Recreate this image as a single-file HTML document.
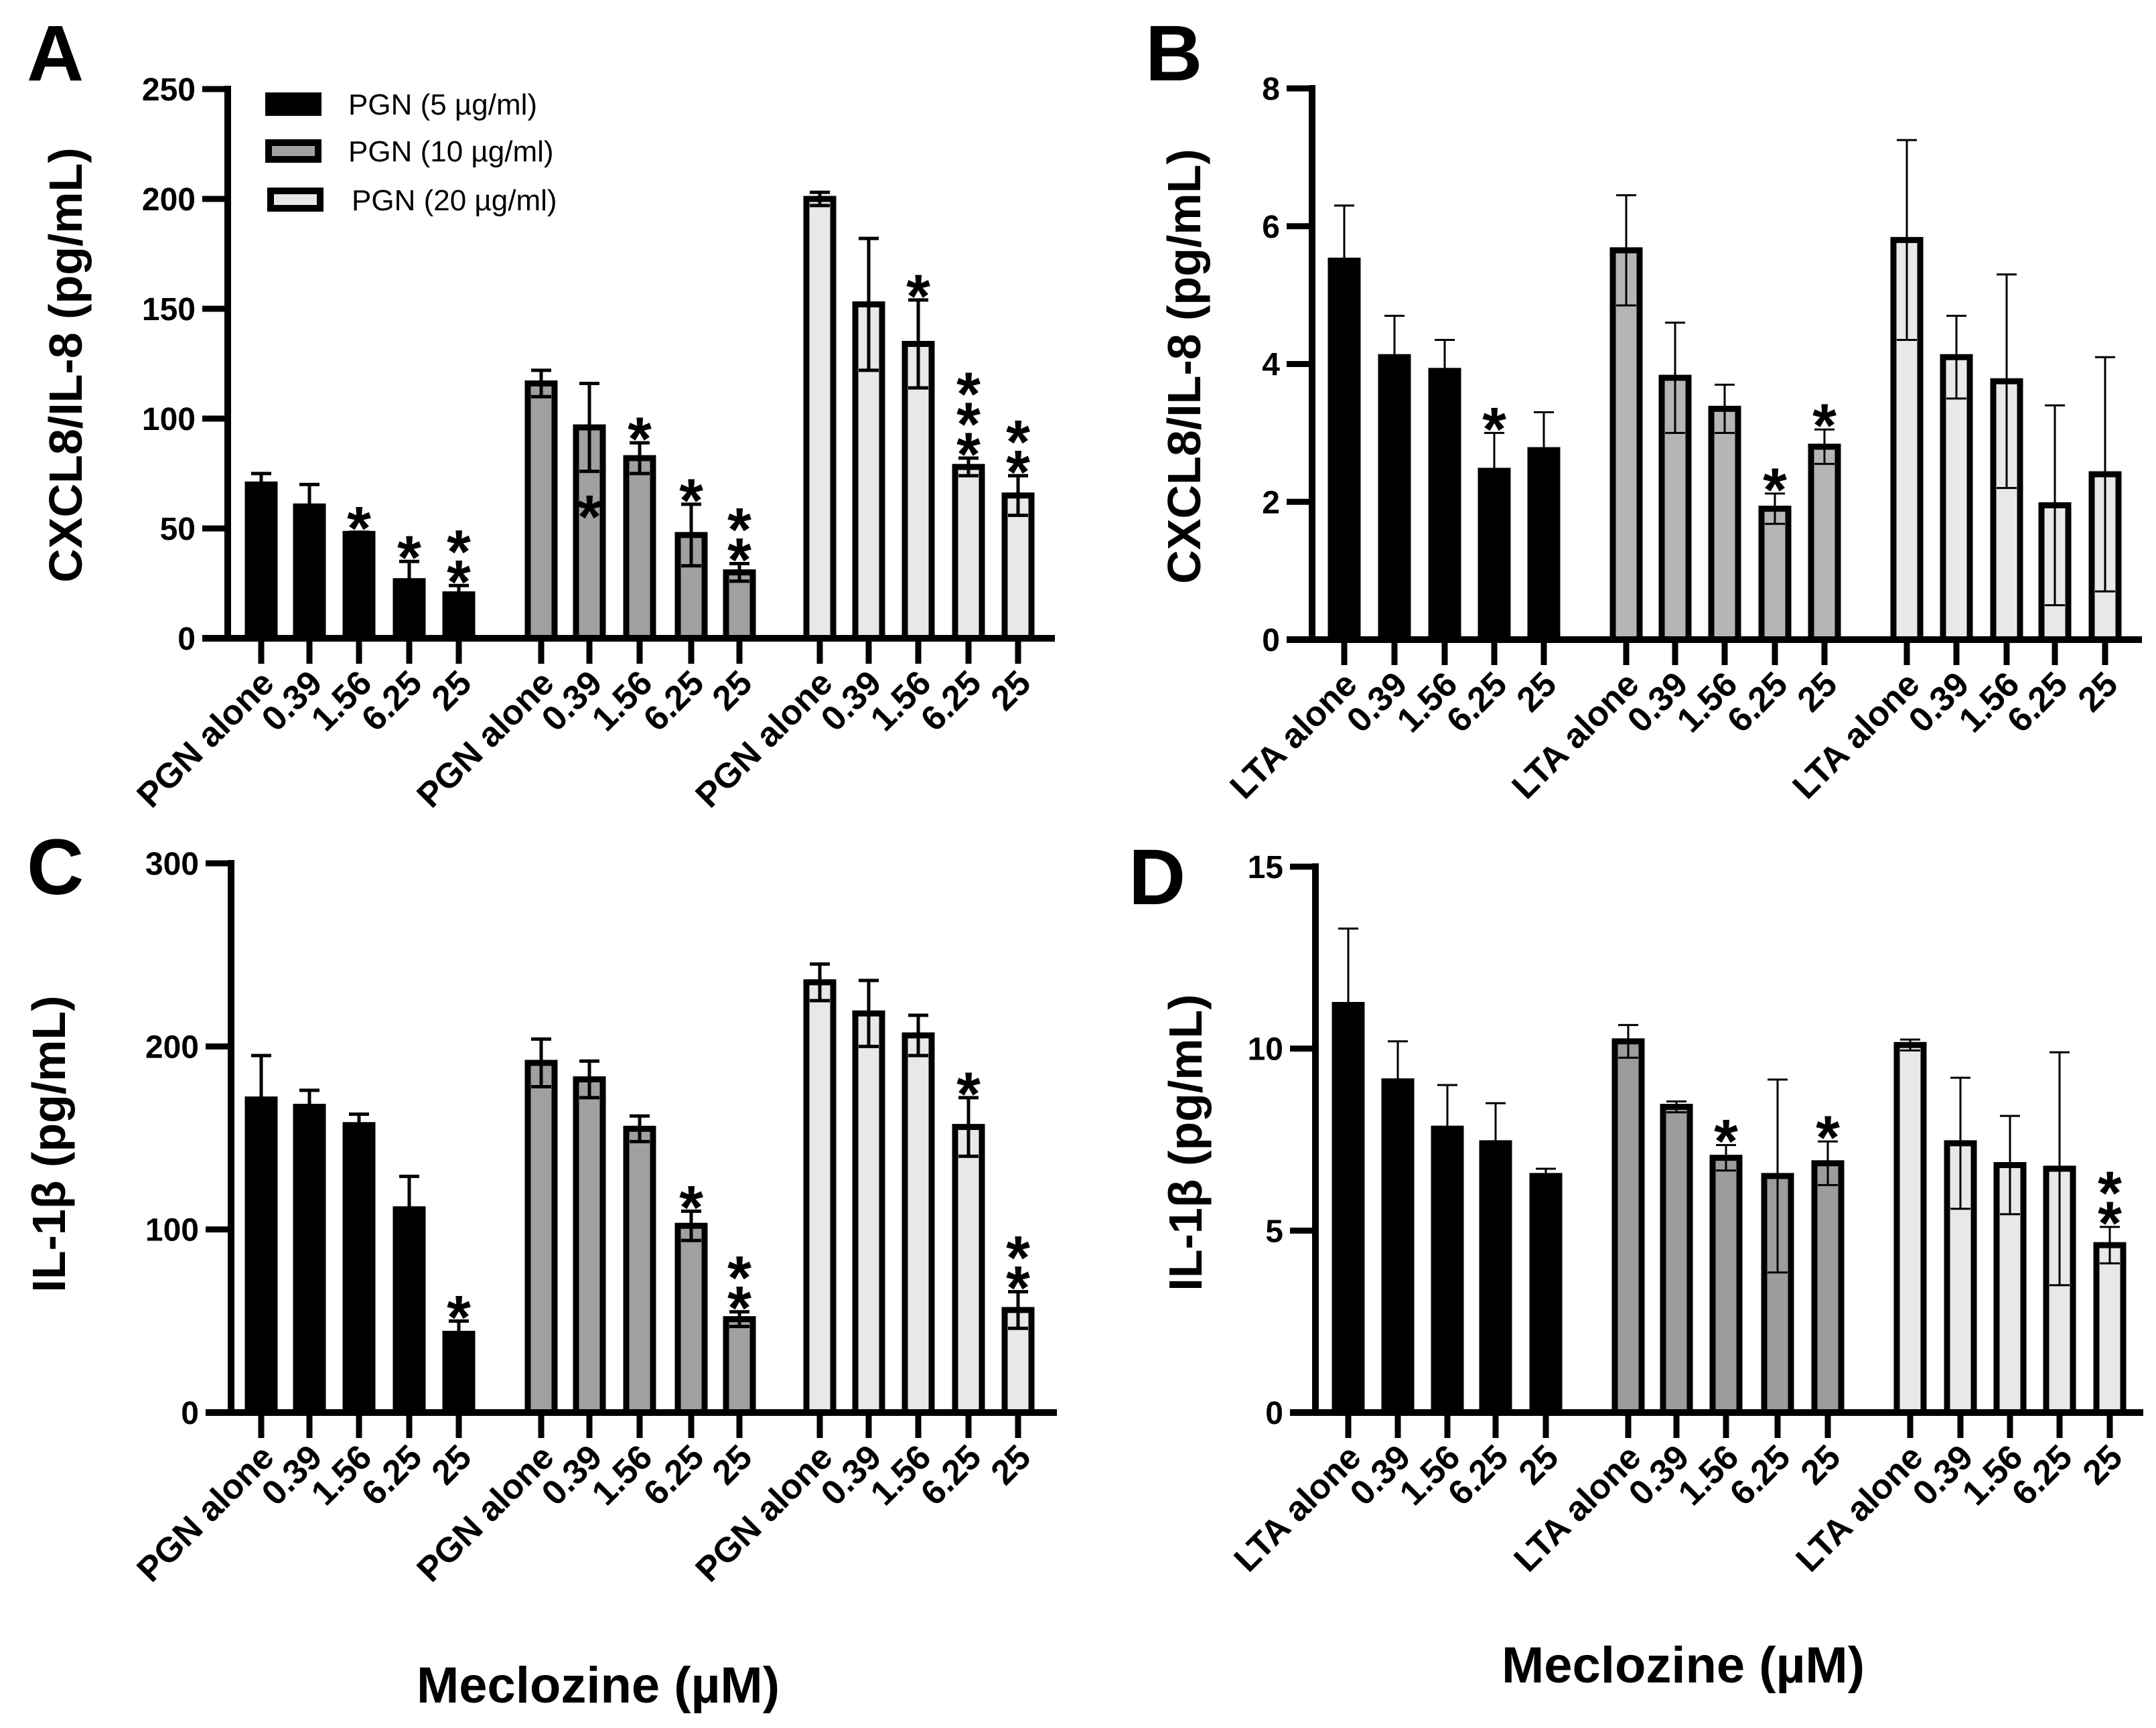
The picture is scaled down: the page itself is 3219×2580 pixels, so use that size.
<!DOCTYPE html>
<html><head><meta charset="utf-8"><style>
html,body{margin:0;padding:0;background:#fff}
svg{display:block;font-family:"Liberation Sans",Arial,sans-serif}
</style></head><body>
<svg id="fig" width="3219" height="2580" viewBox="0 0 3219 2580" xmlns="http://www.w3.org/2000/svg">
<rect width="3219" height="2580" fill="#fff"/>
<g font-weight="bold" font-size="118">
<text x="40" y="120">A</text>
<text x="1710" y="120">B</text>
<text x="40" y="1335">C</text>
<text x="1685" y="1350">D</text>
</g>
<g font-size="44">
<rect x="396" y="138" width="84" height="35" fill="#000"/>
<text x="520" y="171">PGN (5 µg/ml)</text>
<rect x="401" y="213" width="74" height="25" fill="#a0a0a0" stroke="#000" stroke-width="10"/>
<text x="520" y="241">PGN (10 µg/ml)</text>
<rect x="404" y="285" width="74" height="26" fill="#e8e8e8" stroke="#000" stroke-width="10"/>
<text x="525" y="314">PGN (20 µg/ml)</text>
</g>
<g font-weight="bold" font-size="76">
<text x="893" y="2542" text-anchor="middle">Meclozine (µM)</text>
<text x="2513" y="2512" text-anchor="middle">Meclozine (µM)</text>
</g>
</svg>
<script>
// Panel A data
const catsPGN = ["PGN alone","0.39","1.56","6.25","25"];
const catsLTA = ["LTA alone","0.39","1.56","6.25","25"];
const aVals = [[70,60,47.5,26,20],[116,96,82,47,30],[200,152,134,78,65]];
const aErrs = [[5,10,0.8,9,4],[6,20,7,14,4],[3,30,20,4,9]];
const aStars = [[0,0,1,1,2],[0,1,1,1,2],[0,0,1,3,2]];
const aTicks = [0,50,100,150,200,250];
// Panel B data
const bVals = [[5.5,4.1,3.9,2.45,2.75],[5.65,3.8,3.35,1.9,2.8],[5.8,4.1,3.75,1.95,2.4]];
const bErrs = [[0.8,0.6,0.45,0.55,0.55],[0.8,0.8,0.35,0.22,0.25],[1.45,0.6,1.55,1.45,1.7]];
const bStars = [[0,0,0,1,0],[0,0,0,1,1],[0,0,0,0,0]];
const bTicks = [0,2,4,6,8];
// Panel C data
const cVals = [[171,167,157,111,43],[191,182,155,102,51],[235,218,206,156,56]];
const cErrs = [[24,9,6,18,7],[13,10,7,8,4],[10,18,11,16,10]];
const cStars = [[0,0,0,0,1],[0,0,0,1,2],[0,0,0,1,2]];
const cTicks = [0,100,200,300];
// Panel D data
const dVals = [[11.2,9.1,7.8,7.4,6.5],[10.2,8.4,7.0,6.5,6.85],[10.1,7.4,6.8,6.7,4.6]];
const dErrs = [[2.1,1.1,1.2,1.1,0.2],[0.45,0.15,0.35,2.65,0.6],[0.15,1.8,1.35,3.2,0.5]];
const dStars = [[0,0,0,0,0],[0,0,1,0,1],[0,0,0,0,2]];
const dTicks = [0,5,10,15];

const NS="http://www.w3.org/2000/svg";
const svg=document.getElementById('fig');
function mk(tag,attrs,parent){const e=document.createElementNS(NS,tag);for(const k in attrs)e.setAttribute(k,attrs[k]);(parent||svg).appendChild(e);return e;}

function panel(p){
  const g=mk('g',{});
  
  
  const yMax=p.ticks[p.ticks.length-1];
  const Y=v=>p.y0-(v/yMax)*(p.y0-p.yTop);
  const X=(gi,i)=>p.centers[gi][i];
  const fills=['#000',p.grey,'#e8e8e8'];
  for(let gi=0;gi<3;gi++){for(let i=0;i<5;i++){
    const v=p.vals[gi][i],e=p.errs[gi][i],cx=X(gi,i);
    const r=mk('rect',{x:cx-20,y:Y(v),width:40,height:p.y0-Y(v),fill:fills[gi],stroke:'#000','stroke-width':9},g);
    
    
    const eg=mk('g',{stroke:'#000','stroke-width':p.ew},g);
    
    
    mk('line',{x1:cx,x2:cx,y1:Y(v+e),y2:Y(Math.max(0,v-e))},eg);
    mk('line',{x1:cx-15,x2:cx+15,y1:Y(v+e),y2:Y(v+e)},eg);
    mk('line',{x1:cx-15,x2:cx+15,y1:Y(Math.max(0,v-e)),y2:Y(Math.max(0,v-e))},eg);
    const n=p.stars[gi][i];
    let base=Y(v+e)-8;
    if(p.id==='a'&&gi===1&&i===1){base=Y(62)+20;}
    for(let s=0;s<n;s++){
      const t=mk('text',{x:cx,y:base+34-s*45,'text-anchor':'middle','font-size':92,'font-weight':'bold'},g);
      
      
      t.textContent='*';
    }
  }}
  const ax=mk('g',{stroke:'#000'},g);
  
  
  mk('line',{x1:p.ax,x2:p.ax,y1:p.yTop-5,y2:p.y0+5,'stroke-width':10},ax);
  mk('line',{x1:p.ax-38,x2:p.xEnd,y1:p.y0,y2:p.y0,'stroke-width':10},ax);
  p.ticks.forEach(t=>{
    mk('line',{x1:p.ax-38,x2:p.ax,y1:Y(t),y2:Y(t),'stroke-width':9},ax);
    const tl=mk('text',{x:p.ax-48,y:Y(t)+17,'text-anchor':'end','font-size':48,'font-weight':'bold',stroke:'none'},g);
    
    
    tl.textContent=t;
  });
  for(let gi=0;gi<3;gi++){for(let i=0;i<5;i++){
    const cx=X(gi,i);
    mk('line',{x1:cx,x2:cx,y1:p.y0,y2:p.y0+38,'stroke-width':9},ax);
    const tl=mk('text',{x:0,y:0,'text-anchor':'end','font-size':52,'font-weight':'bold',transform:'translate('+(cx+22)+','+(p.y0+70)+') rotate(-45)'},g);
    
    
    tl.textContent=p.cats[i];
  }}
  const yt=mk('text',{x:0,y:0,'text-anchor':'middle','font-size':70,'font-weight':'bold',transform:'translate('+p.ytx+','+p.yty+') rotate(-90)'},g);
  
  
  yt.textContent=p.ytitle;
}

panel({id:'a',vals:aVals,errs:aErrs,stars:aStars,ticks:aTicks,cats:catsPGN,grey:'#a0a0a0',ew:5,
  ax:340,y0:953,yTop:133,xEnd:1575,
  centers:[[390,462,536,611,685],[808,880,955,1032,1104],[1224,1297,1371,1446,1520]],
  ytx:122,yty:545,ytitle:'CXCL8/IL-8 (pg/mL)'});
panel({id:'b',vals:bVals,errs:bErrs,stars:bStars,ticks:bTicks,cats:catsLTA,grey:'#b5b5b5',ew:3,
  ax:1959,y0:955,yTop:132,xEnd:3198,
  centers:[[2007,2082,2157,2231,2305],[2428,2501,2575,2650,2724],[2847,2921,2996,3068,3143]],
  ytx:1792,yty:547,ytitle:'CXCL8/IL-8 (pg/mL)'});
panel({id:'c',vals:cVals,errs:cErrs,stars:cStars,ticks:cTicks,cats:catsPGN,grey:'#a0a0a0',ew:5,
  ax:345,y0:2109,yTop:1289,xEnd:1578,
  centers:[[390,462,536,611,685],[808,880,955,1032,1104],[1224,1297,1371,1446,1520]],
  ytx:97,yty:1708,ytitle:'IL-1β (pg/mL)'});
panel({id:'d',vals:dVals,errs:dErrs,stars:dStars,ticks:dTicks,cats:catsLTA,grey:'#9c9c9c',ew:3,
  ax:1964,y0:2109,yTop:1294,xEnd:3200,
  centers:[[2013,2087,2161,2233,2308],[2431,2503,2577,2654,2729],[2852,2927,3001,3075,3150]],
  ytx:1794,yty:1706,ytitle:'IL-1β (pg/mL)'});
</script>
</body></html>
